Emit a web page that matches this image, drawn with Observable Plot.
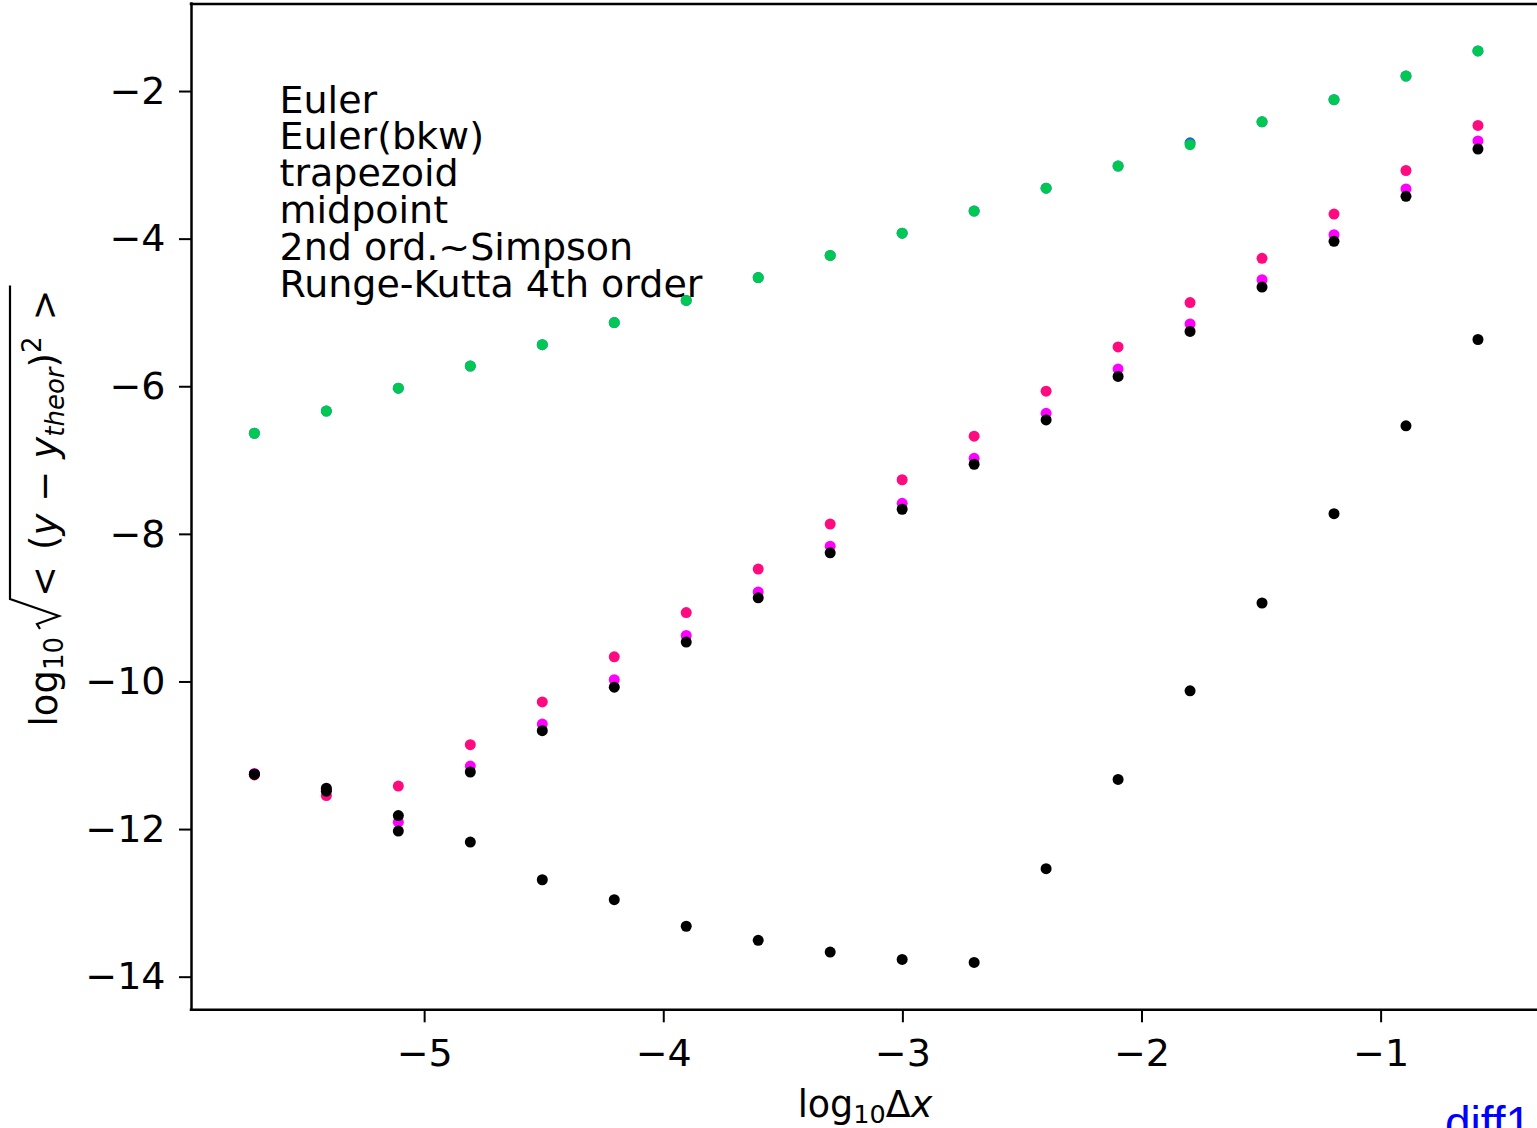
<!DOCTYPE html>
<html><head><meta charset="utf-8">
<script src="https://cdn.jsdelivr.net/npm/d3@7"></script>
<script src="https://cdn.jsdelivr.net/npm/@observablehq/plot@0.6"></script>
<style>html,body{margin:0;padding:0;background:#fff;overflow:hidden}</style>
</head><body><div id="chart"></div>
<script>
// x positions: log10(dx)
const logDx = [-5.712, -5.411, -5.110, -4.809, -4.508, -4.207, -3.906, -3.605, -3.304, -3.003, -2.702, -2.401, -2.100, -1.799, -1.498, -1.197, -0.896, -0.595];
const euler     = [-6.63, -6.33, -6.02, -5.72, -5.43, -5.13, -4.83, -4.52, -4.22, -3.92, -3.62, -3.31, -3.01, -2.695, -2.41, -2.11, -1.79, -1.45];
const eulerBkw  = [-6.63, -6.33, -6.02, -5.72, -5.43, -5.13, -4.83, -4.52, -4.22, -3.92, -3.62, -3.31, -3.01, -2.72, -2.41, -2.11, -1.79, -1.45];
const trapezoid = [-11.26, -11.54, -11.41, -10.85, -10.27, -9.66, -9.06, -8.47, -7.86, -7.26, -6.67, -6.06, -5.46, -4.86, -4.26, -3.66, -3.07, -2.46];
const midpoint  = [-11.24, -11.46, -11.90, -11.14, -10.57, -9.97, -9.37, -8.78, -8.16, -7.58, -6.97, -6.36, -5.76, -5.15, -4.55, -3.94, -3.32, -2.67];
const simpson   = [-11.25, -11.48, -12.02, -11.22, -10.66, -10.07, -9.46, -8.86, -8.25, -7.66, -7.05, -6.45, -5.86, -5.25, -4.65, -4.03, -3.42, -2.78];
const rk4       = [-11.25, -11.44, -11.81, -12.17, -12.68, -12.95, -13.31, -13.50, -13.66, -13.76, -13.80, -12.53, -11.32, -10.12, -8.93, -7.72, -6.53, -5.36];

const seriesNames  = ["Euler", "Euler(bkw)", "trapezoid", "midpoint", "2nd ord.~Simpson", "Runge-Kutta 4th order"];
const seriesColors = ["#2a5bd7", "#00c853", "#ff0a7f", "#ff00ff", "#000000", "#000000"];
const xTicks = [-5, -4, -3, -2, -1];
const yTicks = [-14, -12, -10, -8, -6, -4, -2];
const xDomain = [-5.975, -0.346];
const yDomain = [-14.442, -0.814];
const caption = "diff1";

const seriesValues = [euler, eulerBkw, trapezoid, midpoint, simpson, rk4];
const rows = seriesValues.flatMap((vals, s) => vals.map((v, i) => ({series: seriesNames[s], x: logDx[i], y: v})));

const FONT = "DejaVu Sans";
const chart = Plot.plot({
  width: 1537,
  height: 1128,
  marginLeft: 191,
  marginRight: 0,
  marginTop: 3.5,
  marginBottom: 118.7,
  style: {fontFamily: FONT, background: "white", color: "black"},
  x: {domain: xDomain},
  y: {domain: yDomain},
  color: {domain: seriesNames, range: seriesColors},
  marks: [
    Plot.axisX({ticks: xTicks, tickFormat: d3.format("d"), tickSize: 13, tickPadding: 16, fontSize: 38, strokeWidth: 2, label: null}),
    Plot.axisY({ticks: yTicks, tickFormat: d3.format("d"), tickSize: 12, tickPadding: 14, fontSize: 38, strokeWidth: 2, label: null}),
    Plot.text([seriesNames.join("\n")], {
      frameAnchor: "top-left", dx: 88, dy: 82.5, text: d => d,
      textAnchor: "start", lineAnchor: "top", lineHeight: 0.968, fontSize: 38, fill: "black"
    }),
    Plot.dot(rows, {x: "x", y: "y", fill: "series", r: 5.5, stroke: null}),
    Plot.ruleY([yDomain[1]], {stroke: "black", strokeWidth: 2.5, strokeLinecap: "square"}),
    Plot.ruleY([yDomain[0]], {stroke: "black", strokeWidth: 2.5, strokeLinecap: "square"}),
    Plot.ruleX([xDomain[0]], {stroke: "black", strokeWidth: 2.5, strokeLinecap: "square"})
  ]
});
document.getElementById("chart").appendChild(chart);

const svg = d3.select(chart);
// x label: log10 Δx
const xl = svg.append("text").attr("x", 865).attr("y", 1117).attr("text-anchor", "middle")
  .attr("font-family", FONT).attr("font-size", 36.5).attr("fill", "black");
xl.append("tspan").text("log");
xl.append("tspan").attr("font-size", 25.5).attr("dy", 6).text("10");
xl.append("tspan").attr("dy", -6).text("Δ");
xl.append("tspan").attr("font-style", "italic").text("x");

// y label: log10 sqrt(<(y - y_theor)^2>)
const FS = 37, FSS = 26;
const g = svg.append("g").attr("transform", "translate(57,506) rotate(-90)")
  .attr("font-family", FONT).attr("font-size", FS).attr("fill", "black").attr("text-anchor", "start");
const t1 = g.append("text").attr("text-anchor", "start");
t1.append("tspan").text("log");
t1.append("tspan").attr("font-size", FSS).attr("dy", 6).text("10");
const t3 = g.append("text").attr("text-anchor", "start");
const sp = [16, 12, 12, 16];
t3.append("tspan").text("<");
t3.append("tspan").attr("dx", sp[0]).text("(");
t3.append("tspan").attr("font-style", "italic").text("y");
t3.append("tspan").attr("dx", sp[1]).text("−");
t3.append("tspan").attr("dx", sp[2]).attr("font-style", "italic").text("y");
t3.append("tspan").attr("font-style", "italic").attr("font-size", FSS).attr("dy", 7).text("theor");
t3.append("tspan").attr("dy", -7).text(")");
t3.append("tspan").attr("font-size", FSS).attr("dy", -16).text("2");
t3.append("tspan").attr("dy", 16).attr("dx", sp[3]).text(">");
const w1 = t1.node().getComputedTextLength();
const w3 = t3.node().getComputedTextLength() + d3.sum(sp);
const gap = 8, radW = 30;
const W = w1 + gap + radW + 2 + w3 + 4;
const s = -W / 2;
t1.attr("x", s);
const r0 = s + w1 + gap;
t3.attr("x", r0 + radW + 2);
g.append("path")
  .attr("d", `M${r0},-17 L${r0 + 5},-20 L${r0 + 13},2 L${r0 + radW},-47 H${s + W}`)
  .attr("fill", "none").attr("stroke", "black").attr("stroke-width", 2.2).attr("stroke-linejoin", "miter");

// caption
svg.append("text").attr("x", 1445).attr("y", 1138.5).attr("text-anchor", "start")
  .attr("font-family", "Liberation Sans").attr("font-size", 46).attr("fill", "#0000ff").text(caption);
</script>
</body></html>
